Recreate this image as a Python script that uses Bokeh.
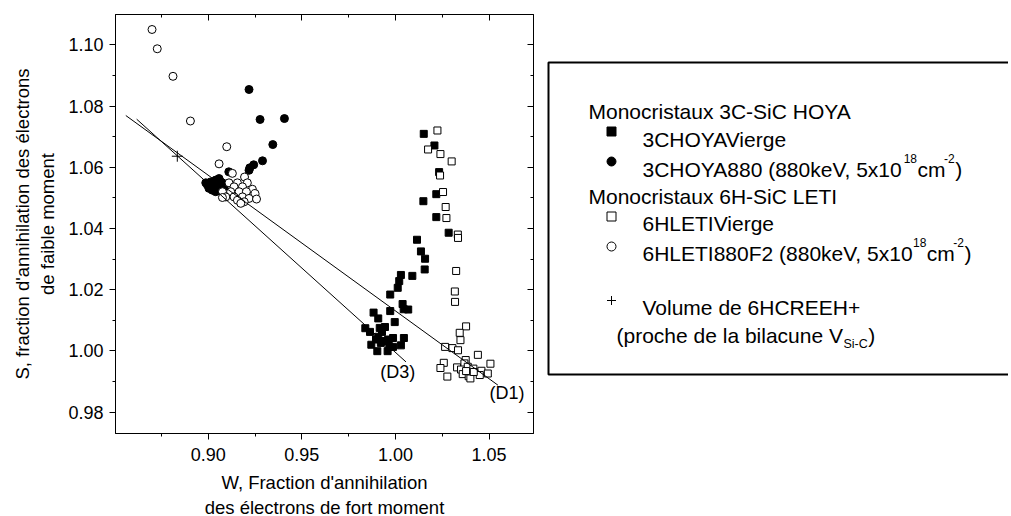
from bokeh.plotting import figure
from bokeh.models import Range1d, LinearAxis, SingleIntervalTicker, PrintfTickFormatter, CustomJSTickFormatter
from bokeh.layouts import row
from bokeh.core.properties import value
from bokeh.embed import file_html
from bokeh.resources import INLINE

FONT = "Liberation Sans"

# ---------------- data ----------------
# 3CHOYAVierge (filled squares)
hoya_v_w = [1.0151, 1.0208, 1.0233, 1.0218, 1.0149, 1.0218, 1.0284, 1.0115, 1.0136, 1.0158,
            1.0156, 1.0090, 1.0029, 1.0020, 1.0012, 0.9972, 1.0038, 1.0068, 1.0044, 0.9972,
            0.9883, 0.9908, 0.9996, 0.9839, 0.9944, 0.9864, 0.9928, 0.9908, 0.9896, 0.9961,
            0.9987, 1.0045, 0.9871, 0.9922, 1.0029, 0.9967, 0.9987, 0.9903, 0.9958, 0.9944,
            0.9916]
hoya_v_s = [1.0709, 1.0671, 1.0584, 1.0512, 1.0489, 1.0437, 1.0386, 1.0363, 1.0325, 1.0301,
            1.0266, 1.0245, 1.0248, 1.0228, 1.0206, 1.0184, 1.0153, 1.0135, 1.0136, 1.0130,
            1.0125, 1.0106, 1.0094, 1.0074, 1.0078, 1.0062, 1.0062, 1.0046, 1.0037, 1.0037,
            1.0042, 1.0042, 1.0020, 1.0026, 1.0018, 1.0015, 1.0013, 0.9999, 0.9999, 1.0032,
            1.0075]

# 3CHOYA880 (filled circles)
hoya_880_w = [0.9218, 0.9277, 0.9407, 0.9345, 0.9290, 0.9243, 0.9222, 0.9218, 0.9110, 0.8987,
              0.9013, 0.9040, 0.9058, 0.9031, 0.9004, 0.9049, 0.9076, 0.9022, 0.9058, 0.8996,
              0.9085, 0.9040, 0.9067]
hoya_880_s = [1.0854, 1.0756, 1.0759, 1.0674, 1.0621, 1.0608, 1.0598, 1.0590, 1.0585, 1.0549,
              1.0552, 1.0558, 1.0563, 1.0542, 1.0531, 1.0536, 1.0549, 1.0525, 1.0523, 1.0542,
              1.0536, 1.0520, 1.0552]

# 6HLETIVierge (open squares)
leti_v_w = [1.0224, 1.0174, 1.0240, 1.0300, 1.0238, 1.0254, 1.0268, 1.0272, 1.0333, 1.0334,
            1.0324, 1.0317, 1.0318, 1.0377, 1.0343, 1.0347, 1.0265, 1.0304, 1.0334, 1.0440,
            1.0258, 1.0240, 1.0277, 1.0375, 1.0368, 1.0329, 1.0350, 1.0386, 1.0416, 1.0359,
            1.0391, 1.0400, 1.0459, 1.0450, 1.0493, 1.0507, 1.0418, 1.0377]
leti_v_s = [1.0720, 1.0658, 1.0643, 1.0619, 1.0573, 1.0519, 1.0470, 1.0434, 1.0380, 1.0369,
            1.0261, 1.0194, 1.0160, 1.0080, 1.0059, 1.0035, 1.0013, 1.0009, 1.0002, 0.9987,
            0.9961, 0.9944, 0.9916, 0.9970, 0.9959, 0.9946, 0.9939, 0.9948, 0.9942, 0.9924,
            0.9917, 0.9910, 0.9935, 0.9921, 0.9926, 0.9958, 0.9931, 0.9934]

# 6HLETI880F2 (open circles)
leti_880_w = [0.8700, 0.8728, 0.8812, 0.8905, 0.9099, 0.9058, 0.9129, 0.9194, 0.9111, 0.9156,
              0.9209, 0.9138, 0.9183, 0.9236, 0.9076, 0.9120, 0.9165, 0.9204, 0.9250, 0.9094,
              0.9138, 0.9183, 0.9218, 0.9258, 0.9156, 0.9192, 0.9076, 0.9174]
leti_880_s = [1.1050, 1.0987, 1.0897, 1.0751, 1.0667, 1.0611, 1.0580, 1.0568, 1.0549, 1.0549,
              1.0549, 1.0536, 1.0536, 1.0528, 1.0520, 1.0520, 1.0520, 1.0520, 1.0514, 1.0503,
              1.0503, 1.0503, 1.0498, 1.0496, 1.0492, 1.0487, 1.0501, 1.0482]

# Volume de 6HCREEH+ (cross)
cree_w = [0.8835]
cree_s = [1.0636]

# reference lines
d1_w = [0.8560, 1.0547]
d1_s = [1.0769, 0.9888]
d3_w = [0.8618, 1.0056]
d3_s = [1.0757, 0.9964]
line_names = ["(D3)", "(D1)"]
line_label_w = [1.0012, 1.0595]
line_label_s = [0.9931, 0.9861]

x_title = "W, Fraction d'annihilation\ndes électrons de fort moment"
y_title = "S, fraction d'annihilation des électrons\nde faible moment"

# ---------------- layout constants (page pixels) ----------------
BL, BT, BR, BB = 115, 14, 10, 83
FW, FH = 418, 419
PW = BL + FW + BR            # width of main figure
TOTAL_W = 1008

# ---------------- main plot ----------------
p = figure(frame_width=FW, frame_height=FH,
           x_range=Range1d(0.8505, 1.0737), y_range=Range1d(0.973, 1.1099),
           output_backend="svg", toolbar_location=None,
           min_border_left=BL, min_border_top=BT, min_border_right=BR, min_border_bottom=BB,
           x_axis_label=x_title, y_axis_label=y_title)
p.grid.visible = False
p.outline_line_color = "black"
p.outline_line_width = 1
p.background_fill_color = "white"
p.border_fill_color = "white"

xt = SingleIntervalTicker(interval=0.05, num_minor_ticks=2)
yt = SingleIntervalTicker(interval=0.02, num_minor_ticks=2)
fmt = PrintfTickFormatter(format="%.2f")

for ax, tk in ((p.xaxis[0], xt), (p.yaxis[0], yt)):
    ax.ticker = tk
    ax.formatter = fmt
    ax.major_tick_in = 0
    ax.major_tick_out = 6
    ax.minor_tick_in = 0
    ax.minor_tick_out = 3
    ax.axis_line_color = "black"
    ax.major_tick_line_color = "black"
    ax.minor_tick_line_color = "black"
    ax.major_label_text_font = FONT
    ax.major_label_text_font_size = "18px"
    ax.major_label_text_color = "black"
    ax.axis_label_text_font = FONT
    ax.axis_label_text_font_size = "18.5px"
    ax.axis_label_text_font_style = "normal"
    ax.axis_label_text_color = "black"
p.xaxis[0].major_label_standoff = 8
p.xaxis[0].axis_label_standoff = 8
p.yaxis[0].major_label_standoff = 6
p.yaxis[0].axis_label_standoff = 7

blank = CustomJSTickFormatter(code="return ''")
for loc, tk in (("above", xt), ("right", yt)):
    ax = LinearAxis(ticker=tk, formatter=blank, major_label_text_font_size="1px",
                    major_label_standoff=0, major_tick_in=6, major_tick_out=0,
                    minor_tick_in=3, minor_tick_out=0, axis_line_color="black",
                    major_tick_line_color="black", minor_tick_line_color="black")
    p.add_layout(ax, loc)

p.scatter(hoya_v_w, hoya_v_s, marker="square", size=7, fill_color="black", line_color="black")
p.scatter(hoya_880_w, hoya_880_s, marker="circle", size=8, fill_color="black", line_color="black")
p.scatter(leti_v_w, leti_v_s, marker="square", size=7, fill_color="white", line_color="black", line_width=1)
p.scatter(leti_880_w, leti_880_s, marker="circle", size=8, fill_color="white", line_color="black", line_width=1)
p.scatter(cree_w, cree_s, marker="cross", size=11, line_color="black", line_width=1)

p.line(d1_w, d1_s, line_color="black", line_width=1)
p.line(d3_w, d3_s, line_color="black", line_width=1)
p.text(line_label_w, line_label_s, text=line_names, text_font=value(FONT), text_font_size="18px",
       text_align="center", text_baseline="middle", text_color="black")

# ---------------- legend panel (pixel coordinates of the page) ----------------
AW = {' ': 278, '(': 333, ')': 333, ',': 278, '-': 333, '.': 278, "'": 191, '+': 584,
      'A': 667, 'C': 722, 'E': 667, 'F': 611, 'H': 722, 'I': 278, 'L': 556, 'M': 833,
      'O': 778, 'R': 722, 'S': 667, 'T': 611, 'V': 667, 'Y': 667,
      'a': 556, 'b': 556, 'c': 500, 'd': 556, 'e': 556, 'g': 556, 'h': 556, 'i': 222,
      'k': 500, 'l': 222, 'm': 833, 'n': 556, 'o': 556, 'p': 556, 'r': 333, 's': 500,
      't': 278, 'u': 556, 'x': 500}


def tw(s, size):
    return sum(AW.get(c, 556) for c in s) * size / 1000.0


MAIN, SUP, SUB = 21, 12, 12.5
legend_rows = [
    (588, 110.7, [("Monocristaux 3C-SiC HOYA", "n")]),
    (642, 138.5, [("3CHOYAVierge", "n")]),
    (642, 168.5, [("3CHOYA880 (880keV, 5x10", "n"), ("18", "sup"), ("cm", "n"), ("-2", "sup"), (")", "n")]),
    (588, 196.0, [("Monocristaux 6H-SiC LETI", "n")]),
    (642, 223.0, [("6HLETIVierge", "n")]),
    (642, 253.0, [("6HLETI880F2 (880keV, 5x10", "n"), ("18", "sup"), ("cm", "n"), ("-2", "sup"), (")", "n")]),
    (642, 307.0, [("Volume de 6HCREEH+", "n")]),
    (616, 335.0, [("(proche de la bilacune V", "n"), ("Si-C", "sub"), (")", "n")]),
]
legend_markers = ["square", "circle", "square", "circle", "cross"]
legend_marker_fill = ["black", "black", "white", "white", "black"]
legend_marker_y = [131, 161, 216, 246, 300]

pieces = {"n": ([], [], []), "sup": ([], [], []), "sub": ([], [], [])}
for x0, yb, segs in legend_rows:
    x = x0
    for txt, kind in segs:
        if kind == "n":
            pieces["n"][0].append(x); pieces["n"][1].append(yb); pieces["n"][2].append(txt)
            x += tw(txt, MAIN)
        elif kind == "sup":
            x -= 1.5
            pieces["sup"][0].append(x); pieces["sup"][1].append(yb - 11); pieces["sup"][2].append(txt)
            x += tw(txt, SUP) + 0.5
        else:
            x += 0.5
            pieces["sub"][0].append(x); pieces["sub"][1].append(yb + 8); pieces["sub"][2].append(txt)
            x += tw(txt, SUB) + 0.5

LW = TOTAL_W - PW
lg = figure(frame_width=LW, frame_height=FH,
            x_range=Range1d(PW, TOTAL_W), y_range=Range1d(BT + FH, BT),
            output_backend="svg", toolbar_location=None,
            min_border_left=0, min_border_right=0, min_border_top=BT, min_border_bottom=BB,
            x_axis_type=None, y_axis_type=None)
lg.grid.visible = False
lg.outline_line_color = None
lg.border_fill_color = "white"
lg.line([1030, 548, 548, 1030], [62, 62, 374, 374], line_color="black", line_width=2)

for kind, fs in (("n", MAIN), ("sup", SUP), ("sub", SUB)):
    xs, ys, ts = pieces[kind]
    lg.text(xs, ys, text=ts, text_font=value(FONT), text_font_size=f"{fs}px",
            text_align="left", text_baseline="alphabetic", text_color="black")

lg.scatter([611] * len(legend_markers), legend_marker_y, marker=legend_markers, size=9,
           fill_color=legend_marker_fill, line_color="black", line_width=1)

layout = row(p, lg)
open("out.html", "w").write(file_html(layout, INLINE))
